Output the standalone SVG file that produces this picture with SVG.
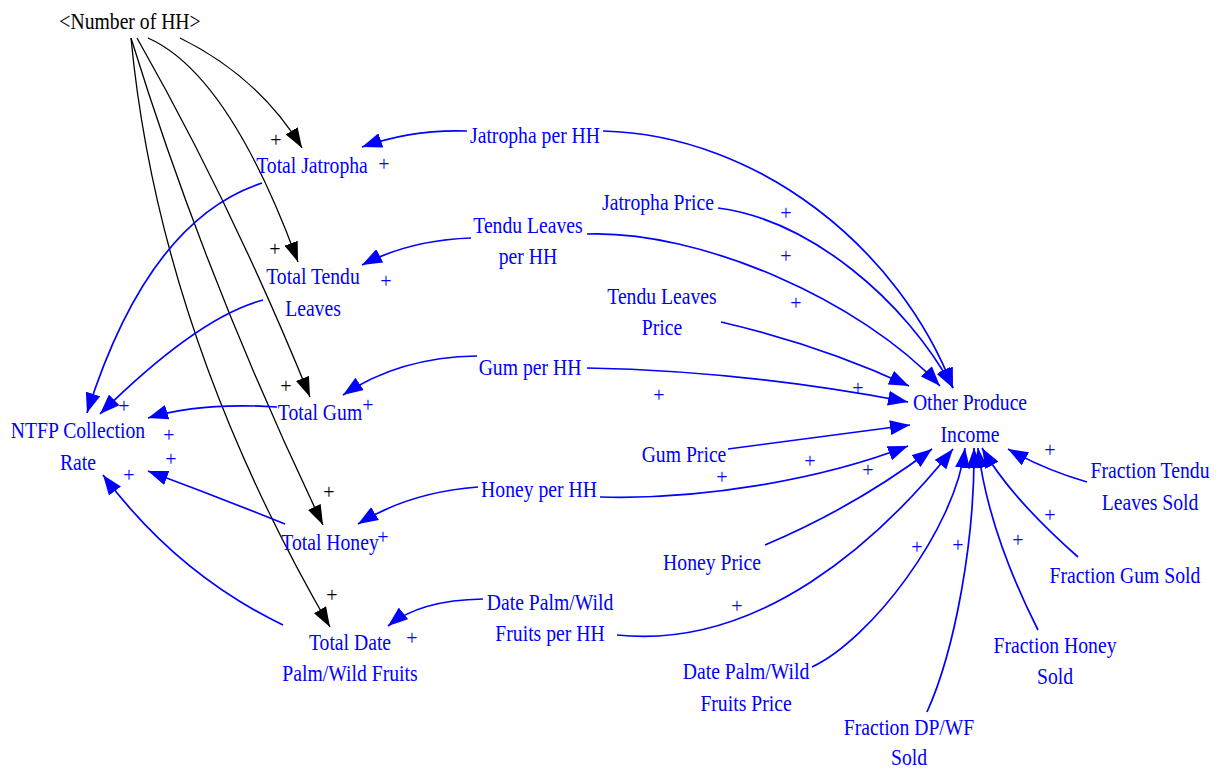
<svg xmlns="http://www.w3.org/2000/svg" width="1218" height="769" viewBox="0 0 1218 769">
  <style>
    .lbl { font-family: "Liberation Serif", "Times New Roman", serif; font-size: 24px; text-anchor: middle; fill: #0000ff; }
    .blk { fill: #000000; }
    .pl { font-family: "Liberation Serif", "Times New Roman", serif; font-size: 20px; text-anchor: middle; fill: #0000ff; }
    .pk { fill: #000000; }
    .lb { fill: none; stroke: #0000ff; stroke-width: 1.7; marker-end: url(#ahB); }
    .lk { fill: none; stroke: #000000; stroke-width: 1.3; marker-end: url(#ahK); }
  </style>
  <defs>
    <marker id="ahB" viewBox="0 0 20 15" refX="20" refY="7.5" markerWidth="20" markerHeight="15" orient="auto" markerUnits="userSpaceOnUse">
      <path d="M0,0 L20,7.5 L0,15 z" fill="#0000ff"/>
    </marker>
    <marker id="ahK" viewBox="0 0 20 14" refX="20" refY="7" markerWidth="20" markerHeight="14" orient="auto" markerUnits="userSpaceOnUse">
      <path d="M0,0 L20,7 L0,14 z" fill="#000000"/>
    </marker>
  </defs>
  <rect width="1218" height="769" fill="#ffffff"/>

  <!-- links -->
  <g id="connectors">
    <!-- Number of HH to totals -->
    <path class="lk" d="M180,38 Q259,77 302,148"/>
    <path class="lk" d="M148,38 Q229,74 298,262"/>
    <path class="lk" d="M137,38 Q232,205 310,397"/>
    <path class="lk" d="M131,38 Q206,281 323,525"/>
    <path class="lk" d="M131,38 Q159,332 330,627"/>
    <!-- totals to NTFP Collection Rate -->
    <path class="lb" d="M262,183 Q148,220 87,413"/>
    <path class="lb" d="M263,300 Q198,317 100,414"/>
    <path class="lb" d="M277,407 Q200,402 148,418"/>
    <path class="lb" d="M285,524 Q218,497 148,471"/>
    <path class="lb" d="M283,625 Q177,574 103,475"/>
    <!-- per HH to totals -->
    <path class="lb" d="M467,131 Q413,129 362,147"/>
    <path class="lb" d="M471,238 Q410,240 362,265"/>
    <path class="lb" d="M477,356 Q400,357 343,395"/>
    <path class="lb" d="M478,487 Q410,492 358,524"/>
    <path class="lb" d="M483,599 Q420,600 388,626"/>
    <!-- inputs to Other Produce Income -->
    <path class="lb" d="M603,131 C760,135 900,250 953,388"/>
    <path class="lb" d="M718,208 C810,220 905,300 953,388"/>
    <path class="lb" d="M587,234 C700,230 860,300 940,386"/>
    <path class="lb" d="M721,322 Q820,345 909,386"/>
    <path class="lb" d="M587,368 Q746,371 908,402"/>
    <path class="lb" d="M728,449 L910,425"/>
    <path class="lb" d="M600,497 C700,500 820,480 908,446"/>
    <path class="lb" d="M765,545 Q855,507 932,449"/>
    <path class="lb" d="M617,635 C760,650 880,540 953,449"/>
    <path class="lb" d="M812,667 C870,640 955,530 965,448"/>
    <path class="lb" d="M927,712 C955,650 975,540 974,448"/>
    <path class="lb" d="M1038,630 Q988,531 978,448"/>
    <path class="lb" d="M1078,557 Q1010,497 982,448"/>
    <path class="lb" d="M1087,482 Q1045,470 1008,449"/>
  </g>

  <!-- polarity signs -->
  <g id="polarity">
    <text class="pl pk" x="276" y="147">+</text>
    <text class="pl pk" x="275" y="256">+</text>
    <text class="pl pk" x="286" y="393">+</text>
    <text class="pl pk" x="329" y="499">+</text>
    <text class="pl pk" x="332" y="602">+</text>
    <text class="pl" x="384" y="171">+</text>
    <text class="pl" x="386" y="288">+</text>
    <text class="pl" x="368" y="412">+</text>
    <text class="pl" x="383" y="544">+</text>
    <text class="pl" x="412" y="645">+</text>
    <text class="pl" x="124" y="413">+</text>
    <text class="pl" x="169" y="442">+</text>
    <text class="pl" x="171" y="466">+</text>
    <text class="pl" x="129" y="482">+</text>
    <text class="pl" x="786" y="220">+</text>
    <text class="pl" x="786" y="263">+</text>
    <text class="pl" x="796" y="310">+</text>
    <text class="pl" x="659" y="402">+</text>
    <text class="pl" x="858" y="395">+</text>
    <text class="pl" x="810" y="468">+</text>
    <text class="pl" x="722" y="484">+</text>
    <text class="pl" x="868" y="477">+</text>
    <text class="pl" x="737" y="613">+</text>
    <text class="pl" x="917" y="554">+</text>
    <text class="pl" x="958" y="552">+</text>
    <text class="pl" x="1018" y="547">+</text>
    <text class="pl" x="1050" y="522">+</text>
    <text class="pl" x="1050" y="457">+</text>
  </g>

  <!-- variables -->
  <g id="number-of-hh"><text class="lbl blk" transform="translate(130,0) scale(0.82,1)" x="0" y="29">&lt;Number of HH&gt;</text></g>
  <g id="total-jatropha"><text class="lbl" transform="translate(312,0) scale(0.82,1)" x="0" y="173">Total Jatropha</text></g>
  <g id="total-tendu-leaves"><text class="lbl" transform="translate(313,0) scale(0.82,1)"><tspan x="0" y="284">Total Tendu</tspan><tspan x="0" y="316">Leaves</tspan></text></g>
  <g id="total-gum"><text class="lbl" transform="translate(320,0) scale(0.82,1)" x="0" y="420">Total Gum</text></g>
  <g id="total-honey"><text class="lbl" transform="translate(330,0) scale(0.82,1)" x="0" y="550">Total Honey</text></g>
  <g id="total-date-palm"><text class="lbl" transform="translate(350,0) scale(0.82,1)"><tspan x="0" y="650">Total Date</tspan><tspan x="0" y="681">Palm/Wild Fruits</tspan></text></g>
  <g id="ntfp-collection-rate"><text class="lbl" transform="translate(78,0) scale(0.82,1)"><tspan x="0" y="438">NTFP Collection</tspan><tspan x="0" y="470">Rate</tspan></text></g>
  <g id="jatropha-per-hh"><text class="lbl" transform="translate(535,0) scale(0.82,1)" x="0" y="143">Jatropha per HH</text></g>
  <g id="jatropha-price"><text class="lbl" transform="translate(658,0) scale(0.82,1)" x="0" y="210">Jatropha Price</text></g>
  <g id="tendu-leaves-per-hh"><text class="lbl" transform="translate(528,0) scale(0.82,1)"><tspan x="0" y="233">Tendu Leaves</tspan><tspan x="0" y="264">per HH</tspan></text></g>
  <g id="tendu-leaves-price"><text class="lbl" transform="translate(662,0) scale(0.82,1)"><tspan x="0" y="304">Tendu Leaves</tspan><tspan x="0" y="335">Price</tspan></text></g>
  <g id="gum-per-hh"><text class="lbl" transform="translate(530,0) scale(0.82,1)" x="0" y="375">Gum per HH</text></g>
  <g id="gum-price"><text class="lbl" transform="translate(684,0) scale(0.82,1)" x="0" y="462">Gum Price</text></g>
  <g id="honey-per-hh"><text class="lbl" transform="translate(539,0) scale(0.82,1)" x="0" y="497">Honey per HH</text></g>
  <g id="honey-price"><text class="lbl" transform="translate(712,0) scale(0.82,1)" x="0" y="570">Honey Price</text></g>
  <g id="date-palm-per-hh"><text class="lbl" transform="translate(550,0) scale(0.82,1)"><tspan x="0" y="610">Date Palm/Wild</tspan><tspan x="0" y="641">Fruits per HH</tspan></text></g>
  <g id="date-palm-price"><text class="lbl" transform="translate(746,0) scale(0.82,1)"><tspan x="0" y="679">Date Palm/Wild</tspan><tspan x="0" y="711">Fruits Price</tspan></text></g>
  <g id="other-produce-income"><text class="lbl" transform="translate(970,0) scale(0.82,1)"><tspan x="0" y="410">Other Produce</tspan><tspan x="0" y="442">Income</tspan></text></g>
  <g id="fraction-tendu-sold"><text class="lbl" transform="translate(1150,0) scale(0.82,1)"><tspan x="0" y="478">Fraction Tendu</tspan><tspan x="0" y="510">Leaves Sold</tspan></text></g>
  <g id="fraction-gum-sold"><text class="lbl" transform="translate(1125,0) scale(0.82,1)" x="0" y="583">Fraction Gum Sold</text></g>
  <g id="fraction-honey-sold"><text class="lbl" transform="translate(1055,0) scale(0.82,1)"><tspan x="0" y="653">Fraction Honey</tspan><tspan x="0" y="684">Sold</tspan></text></g>
  <g id="fraction-dpwf-sold"><text class="lbl" transform="translate(909,0) scale(0.82,1)"><tspan x="0" y="735">Fraction DP/WF</tspan><tspan x="0" y="765">Sold</tspan></text></g>
</svg>
